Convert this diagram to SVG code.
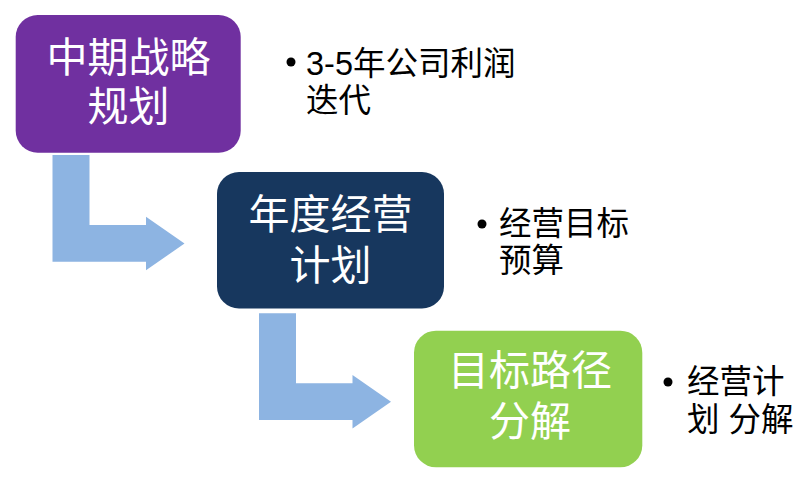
<svg xmlns="http://www.w3.org/2000/svg" width="809" height="485" viewBox="0 0 809 485">
<defs>
<style>
.box-title{font-family:"Liberation Sans","Noto Sans CJK SC",sans-serif;font-size:41px;fill:#ffffff;text-anchor:middle;}
.bullet-text{font-family:"Liberation Sans","Noto Sans CJK SC",sans-serif;font-size:32.5px;fill:#000000;}
.arrow{fill:#8DB4E2;}
</style>
<path id="bentArrow" d="M0,0 H37 V70 H93.5 V61.7 L132,88.5 L93.5,115.3 V106.7 H0 Z"/>
</defs>
<rect width="809" height="485" fill="#ffffff"/>
<g id="connectors">
<use href="#bentArrow" class="arrow" x="52.5" y="155"/>
<use href="#bentArrow" class="arrow" x="259" y="313.3"/>
</g>
<g id="node-1">
<rect x="15.7" y="15" width="225" height="137.7" rx="22" fill="#7030A0"/>
<text class="box-title"><tspan x="128.5" y="72">中期战略</tspan><tspan x="128.5" y="121">规划</tspan></text>
</g>
<g id="node-2">
<rect x="217" y="172" width="227" height="136.5" rx="22" fill="#17375E"/>
<text class="box-title"><tspan x="330.5" y="229">年度经营</tspan><tspan x="330.5" y="280">计划</tspan></text>
</g>
<g id="node-3">
<rect x="414" y="330.7" width="228.3" height="136.6" rx="22" fill="#92D050"/>
<text class="box-title"><tspan x="530" y="385">目标路径</tspan><tspan x="530" y="436">分解</tspan></text>
</g>
<g id="note-1">
<circle cx="291" cy="62" r="4.5" fill="#000"/>
<text class="bullet-text"><tspan x="306" y="75">3-5年公司利润</tspan><tspan x="306" y="112">迭代</tspan></text>
</g>
<g id="note-2">
<circle cx="482" cy="224" r="4.5" fill="#000"/>
<text class="bullet-text"><tspan x="499" y="235">经营目标</tspan><tspan x="499" y="272">预算</tspan></text>
</g>
<g id="note-3">
<circle cx="668" cy="382" r="4.5" fill="#000"/>
<text class="bullet-text"><tspan x="687" y="393">经营计</tspan><tspan x="687" y="431">划 分解</tspan></text>
</g>
</svg>
